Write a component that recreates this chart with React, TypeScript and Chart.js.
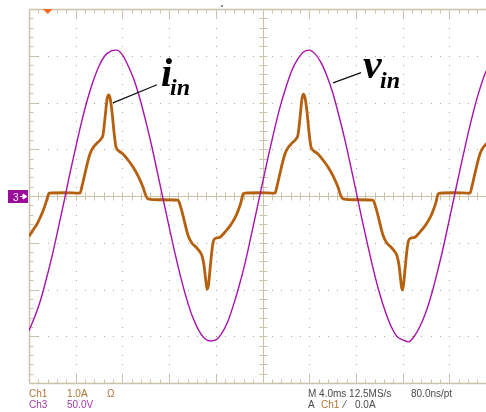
import React, { useEffect, useRef } from "react";
import { Chart, registerables } from "chart.js";

Chart.register(...registerables);

// ---- data (time in ms, Ch3 voltage in V, Ch1 current in A) ----
const vTimeMs = [
  0, 0.5, 1, 1.5, 2, 2.5, 3, 3.5, 4, 4.5,
  5, 5.5, 6, 6.5, 7, 7.5, 8, 8.5, 9, 9.5,
  10, 10.5, 11, 11.5, 12, 12.5, 13, 13.5, 14, 14.5,
  15, 15.5, 16, 16.5, 17, 17.5, 18, 18.5, 19, 19.5,
  20, 20.5, 21, 21.5, 22, 22.5, 23, 23.5, 24, 24.5,
  25, 25.5, 26, 26.5, 27, 27.5, 28, 28.5, 29, 29.5,
  30, 30.5, 31, 31.5, 32, 32.5, 33, 33.5, 34, 34.5,
  35, 35.5, 36, 36.5, 37, 37.5, 38, 38.5, 39, 39.5,
];
const vinVolts = [
  -144, -129, -111, -88, -63, -35, -6, 24, 52, 79,
  103, 123, 139, 150, 155, 156, 151, 139, 124, 104,
  80, 54, 25, -4, -33, -61, -87, -110, -129, -143,
  -152, -155, -154, -147, -135, -117, -96, -72, -44, -15,
  14, 43, 70, 95, 116, 134, 146, 154, 156, 152,
  143, 129, 111, 88, 63, 35, 6, -24, -52, -79,
  -103, -123, -139, -150, -154, -156, -150, -139, -124, -104,
  -80, -54, -25, 4, 33, 61, 87, 110, 129, 143,
];

const iTimeMs = [
  0, 0.34, 0.69, 0.94, 1.2, 1.46, 1.67, 1.71, 3.0, 4.37,
  4.54, 4.8, 5.05, 5.22, 5.48, 5.82, 6.17, 6.34, 6.51, 6.68, 6.81, 6.94, 7.11, 7.28, 7.45,
  7.71, 8.05, 8.48, 8.91, 9.34, 9.76, 10.02, 10.19,
  11.4, 12.76,
  13.02, 13.28, 13.62, 13.96, 14.3, 14.65, 14.82, 14.99, 15.12, 15.25, 15.37, 15.5, 15.67, 15.8,
  16.02, 16.36, 16.79, 17.22, 17.64, 17.9, 18.16, 18.33,
  18.5, 19.7, 21.07,
  21.24, 21.5, 21.75, 21.92, 22.18, 22.52, 22.87, 23.04, 23.21, 23.38, 23.51, 23.64, 23.81, 23.98, 24.15,
  24.41, 24.75, 25.18, 25.61, 26.04, 26.46, 26.72, 26.89,
  28.1, 29.46,
  29.72, 29.98, 30.32, 30.66, 31.0, 31.35, 31.52, 31.69, 31.82, 31.95, 32.07, 32.2, 32.37, 32.5,
  32.72, 33.06, 33.49, 33.92, 34.34, 34.6, 34.86, 35.03,
  35.2, 36.4, 37.77,
  37.94, 38.2, 38.45, 38.62, 38.88, 39.22,
];
const iinAmps = [
  -0.86, -0.73, -0.6, -0.47, -0.32, -0.13, 0.04, 0.06, 0.07, 0.06,
  0.21, 0.49, 0.75, 0.9, 1.03, 1.13, 1.22, 1.31, 1.67, 2.06, 2.16, 2.1, 1.8, 1.37, 1.05,
  0.96, 0.9, 0.77, 0.62, 0.43, 0.19, 0.0, -0.06,
  -0.08, -0.09,
  -0.26, -0.51, -0.84, -1.01, -1.09, -1.2, -1.28, -1.48, -1.76, -1.99, -1.91, -1.58, -1.16, -0.96,
  -0.9, -0.88, -0.77, -0.64, -0.47, -0.32, -0.13, 0.04,
  0.06, 0.07, 0.06,
  0.21, 0.49, 0.75, 0.9, 1.03, 1.13, 1.22, 1.31, 1.67, 2.08, 2.18, 2.1, 1.8, 1.37, 1.05,
  0.96, 0.9, 0.77, 0.62, 0.43, 0.19, 0.0, -0.06,
  -0.08, -0.09,
  -0.26, -0.51, -0.84, -1.01, -1.09, -1.2, -1.28, -1.48, -1.76, -2.01, -1.91, -1.58, -1.16, -0.96,
  -0.9, -0.88, -0.77, -0.64, -0.47, -0.32, -0.13, 0.04,
  0.06, 0.07, 0.06,
  0.21, 0.49, 0.75, 0.9, 1.03, 1.13,
];

// oscilloscope graticule settings
const MS_PER_DIV = 4;
const V_PER_DIV = 50;
const A_PER_DIV = 1;
const H_DIVS = 10;
const V_DIVS = 8;
const MINOR = 5;
const VISIBLE_MS = 39.14;
const TRIGGER_MS = 1.6;

const GRID = "#c9c3aa";
const DOT = "#aaa592";
const VIN_COLOR = "#a812aa";
const IIN_COLOR = "#b5600e";

const graticule = {
  id: "graticule",
  beforeDatasetsDraw(chart: any) {
    const { ctx, chartArea } = chart;
    const { top, right } = chartArea;
    const xs = chart.scales.x;
    const ys = chart.scales.y;
    const px = (t: number) => Math.round(xs.getPixelForValue(t)) + 0.5;
    const py = (v: number) => Math.round(ys.getPixelForValue(v)) + 0.5;
    const tMax = H_DIVS * MS_PER_DIV;
    const vMax = (V_DIVS / 2) * V_PER_DIV;
    const tMinor = MS_PER_DIV / MINOR;
    const vMinor = V_PER_DIV / MINOR;
    ctx.save();
    // dotted major lines
    ctx.fillStyle = DOT;
    for (let d = 1; d < H_DIVS; d++) {
      if (d === H_DIVS / 2) continue;
      const x = px(d * MS_PER_DIV);
      for (let k = -V_DIVS / 2 * MINOR; k <= V_DIVS / 2 * MINOR; k++) {
        ctx.fillRect(x - 0.5, py(k * vMinor) - 0.5, 1, 1);
      }
    }
    for (let d = -V_DIVS / 2 + 1; d < V_DIVS / 2; d++) {
      if (d === 0) continue;
      const y = py(d * V_PER_DIV);
      for (let k = 0; k <= H_DIVS * MINOR; k++) {
        ctx.fillRect(px(k * tMinor) - 0.5, y - 0.5, 1, 1);
      }
    }
    ctx.strokeStyle = GRID;
    ctx.lineWidth = 1;
    ctx.beginPath();
    const L = px(0), T = py(vMax), B = py(-vMax);
    // border ticks
    for (let k = 1; k < H_DIVS * MINOR; k++) {
      const x = px(k * tMinor);
      const len = k % MINOR === 0 ? 9 : 4;
      ctx.moveTo(x, T); ctx.lineTo(x, T + len);
      ctx.moveTo(x, B); ctx.lineTo(x, B - len);
    }
    for (let k = -V_DIVS / 2 * MINOR + 1; k < V_DIVS / 2 * MINOR; k++) {
      const y = py(k * vMinor);
      const len = k % MINOR === 0 ? 9 : 4;
      ctx.moveTo(L, y); ctx.lineTo(L + len, y);
    }
    // center cross-hair with ticks
    const cx = px(tMax / 2), cy = py(0);
    ctx.moveTo(L, cy); ctx.lineTo(right + 1, cy);
    ctx.moveTo(cx, T); ctx.lineTo(cx, B);
    for (let k = 1; k < H_DIVS * MINOR; k++) {
      const x = px(k * tMinor);
      ctx.moveTo(x, cy - 4); ctx.lineTo(x, cy + 4);
    }
    for (let k = -V_DIVS / 2 * MINOR + 1; k < V_DIVS / 2 * MINOR; k++) {
      const y = py(k * vMinor);
      ctx.moveTo(cx - 4, y); ctx.lineTo(cx + 4, y);
    }
    ctx.stroke();
    // border (left, top, bottom), a little heavier
    ctx.lineWidth = 1.5;
    ctx.beginPath();
    ctx.moveTo(L, T); ctx.lineTo(right + 1, T);
    ctx.moveTo(L, B); ctx.lineTo(right + 1, B);
    ctx.moveTo(L, T); ctx.lineTo(L, B);
    ctx.stroke();
    // trigger position marker
    const tx = xs.getPixelForValue(TRIGGER_MS);
    ctx.fillStyle = "#ff6a26";
    ctx.beginPath();
    ctx.moveTo(tx - 5, top); ctx.lineTo(tx + 5, top); ctx.lineTo(tx, top + 5);
    ctx.closePath(); ctx.fill();
    ctx.restore();
  },
  afterDatasetsDraw(chart: any) {
    const { ctx } = chart;
    const xs = chart.scales.x;
    const yv = chart.scales.y;
    const yi = chart.scales.y1;
    ctx.save();
    ctx.strokeStyle = "#111";
    ctx.lineWidth = 1.3;
    ctx.beginPath();
    // leader for i_in
    ctx.moveTo(xs.getPixelForValue(7.19), yi.getPixelForValue(1.99));
    ctx.lineTo(xs.getPixelForValue(10.96), yi.getPixelForValue(2.38));
    // leader for v_in
    ctx.moveTo(xs.getPixelForValue(26.04), yv.getPixelForValue(121));
    ctx.lineTo(xs.getPixelForValue(28.44), yv.getPixelForValue(132));
    ctx.stroke();
    ctx.restore();
  },
};

export default function App() {
  const canvasRef = useRef<HTMLCanvasElement | null>(null);

  useEffect(() => {
    document.body.style.margin = "0";
    const canvas = canvasRef.current;
    if (!canvas) return;
    const chart = new Chart(canvas, {
      type: "line",
      data: {
        datasets: [
          {
            label: "vin",
            data: vTimeMs.map((t, i) => ({ x: t, y: vinVolts[i] })),
            yAxisID: "y",
            borderColor: VIN_COLOR,
            borderWidth: 1.4,
            pointRadius: 0,
            cubicInterpolationMode: "monotone",
            fill: false,
          },
          {
            label: "iin",
            data: iTimeMs.map((t, i) => ({ x: t, y: iinAmps[i] })),
            yAxisID: "y1",
            borderColor: IIN_COLOR,
            borderWidth: 2.8,
            pointRadius: 0,
            cubicInterpolationMode: "monotone",
            fill: false,
          },
        ],
      },
      options: {
        responsive: false,
        maintainAspectRatio: false,
        animation: false,
        layout: { padding: { left: 29, top: 9, right: 0, bottom: 29 } },
        plugins: { legend: { display: false }, tooltip: { enabled: false } },
        scales: {
          x: { type: "linear", min: 0, max: VISIBLE_MS, display: false },
          y: { type: "linear", min: -(V_DIVS / 2) * V_PER_DIV, max: (V_DIVS / 2) * V_PER_DIV, display: false },
          y1: { type: "linear", min: -(V_DIVS / 2) * A_PER_DIV, max: (V_DIVS / 2) * A_PER_DIV, display: false },
        },
      },
      plugins: [graticule],
    });
    return () => chart.destroy();
  }, []);

  const small = { fontFamily: "'Liberation Sans', Arial, sans-serif", fontSize: 10 } as const;
  const ann = { fontFamily: "'Liberation Serif', 'Times New Roman', serif", fontStyle: "italic", fontWeight: "bold" } as const;

  return (
    <div style={{ position: "relative", width: 486, height: 412, background: "#fff", overflow: "hidden" }}>
      <canvas ref={canvasRef} width={486} height={412} style={{ width: 486, height: 412, display: "block" }} />
      <svg width={486} height={412} style={{ position: "absolute", left: 0, top: 0 }}>
        <rect x={221} y={5} width={2} height={2} fill="#888" />
        <rect x={8} y={190} width={20} height={13} fill="#9b0c9b" />
        <text x={13} y={201} fill="#fff" style={small}>3</text>
        <path d="M20 196.5 H24 M23 194 L27 196.5 L23 199 Z" stroke="#fff" fill="#fff" strokeWidth={1} />
        <text x={161} y={86} style={{ ...ann, fontSize: 40 }} fill="#000">i</text>
        <text x={170} y={95} style={{ ...ann, fontSize: 24 }} fill="#000">in</text>
        <text x={363} y={78} style={{ ...ann, fontSize: 42 }} fill="#000">v</text>
        <text x={380} y={88} style={{ ...ann, fontSize: 24 }} fill="#000">in</text>
        <text x={29} y={397} fill="#b07434" style={small}>Ch1</text>
        <text x={67} y={397} fill="#b07434" style={small}>1.0A</text>
        <text x={107} y={397} fill="#b07434" style={small}>Ω</text>
        <text x={29} y={408} fill="#a03aa8" style={small}>Ch3</text>
        <text x={67} y={408} fill="#a03aa8" style={small}>50.0V</text>
        <text x={308} y={397} fill="#4a4a4a" style={small}>M 4.0ms 12.5MS/s</text>
        <text x={411} y={397} fill="#4a4a4a" style={small}>80.0ns/pt</text>
        <text x={308} y={408} fill="#4a4a4a" style={small}>A</text>
        <text x={321} y={408} fill="#b07434" style={small}>Ch1</text>
        <text x={344} y={408} fill="#4a4a4a" style={small}>⁄</text>
        <text x={355} y={408} fill="#4a4a4a" style={small}>0.0A</text>
      </svg>
    </div>
  );
}
